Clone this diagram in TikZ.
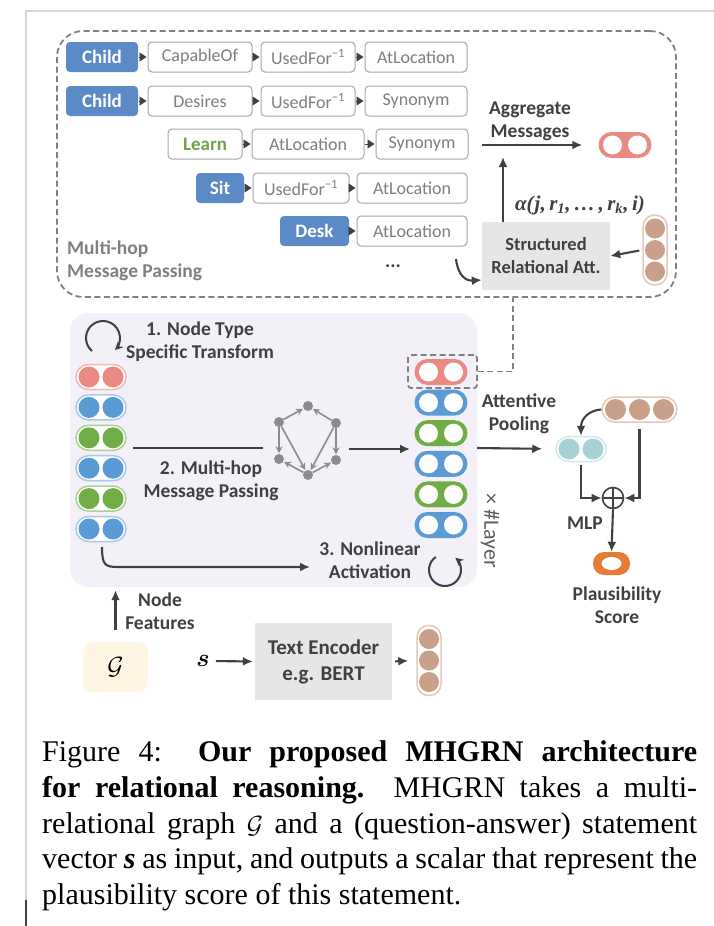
\documentclass[tikz,border=0pt]{standalone}
\usepackage{fontspec}
\setmainfont{Carlito}
\newfontfamily\capfont{Liberation Serif}
\usepackage{amsmath,bm}
\usetikzlibrary{arrows.meta,calc}
\definecolor{framegrey}{HTML}{D6D6D6}
\definecolor{cursorgrey}{HTML}{404040}
\definecolor{entblue}{HTML}{5B8AC6}
\definecolor{boxgrey}{HTML}{A6A6A6}
\definecolor{relgrey}{HTML}{7F7F7F}
\definecolor{learngreen}{HTML}{6FA64A}
\definecolor{darkgrey}{HTML}{404040}
\definecolor{dashgrey}{HTML}{808080}
\definecolor{graphgrey}{HTML}{8C8C8C}
\definecolor{pred}{HTML}{EA8A84}
\definecolor{predlt}{HTML}{F2B8B3}
\definecolor{pblue}{HTML}{5B9BD5}
\definecolor{pbluelt}{HTML}{A9C8EA}
\definecolor{pgreen}{HTML}{70AD47}
\definecolor{pgreenlt}{HTML}{AFD095}
\definecolor{pteal}{HTML}{A8D2D5}
\definecolor{pteallt}{HTML}{D2E8EA}
\definecolor{pbrown}{HTML}{C9A089}
\definecolor{pbrownlt}{HTML}{E3C9BB}
\definecolor{porange}{HTML}{E57C36}
\definecolor{encgrey}{HTML}{E6E6E6}
\definecolor{panelcol}{HTML}{F3F0F7}
\definecolor{gyellow}{HTML}{FEF6E3}
\tikzset{
  relbox/.style={draw=boxgrey, line width=1pt, rounded corners=4pt, fill=white, text=relgrey,
    minimum height=30pt, inner sep=0pt, font=\fontsize{18}{20}\selectfont},
  entbox/.style={relbox, draw=none, fill=entblue, text=white, font=\fontsize{19}{20}\selectfont\bfseries},
  tri/.style={draw=darkgrey, line width=0.6pt, shorten >=1pt, -{Triangle[length=7pt,width=9pt]}},
  arr/.style={draw=darkgrey, line width=2.1pt, -{Latex[length=10pt,width=9pt]}},
  lbl/.style={text=darkgrey, font=\fontsize{19.5}{23}\selectfont\bfseries, align=center, inner sep=0pt},
  dashline/.style={draw=dashgrey, line width=1.8pt, dash pattern=on 6pt off 3.5pt},
  greybox/.style={fill=encgrey, inner sep=0pt},
  gnode/.style={circle, fill=graphgrey, inner sep=0pt, minimum size=10pt},
  garr/.style={draw=graphgrey, line width=1.6pt, shorten >=0.5pt, -{Stealth[length=7pt,width=7pt]}},
  loop/.style={draw=darkgrey, line width=2pt, -{Stealth[length=8pt,width=8pt]}},
  pics/lpill/.style={code={
    \node[draw=#1lt, line width=1.5pt, fill=white, rounded corners=12.5pt,
      minimum width=50pt, minimum height=25pt, inner sep=0pt] (-box) {};
    \fill[#1] (-12,0) circle (10.5pt) (12,0) circle (10.5pt);
  }},
  pics/rpill/.style={code={
    \node[fill=#1, rounded corners=13pt, minimum width=53pt, minimum height=26pt, inner sep=0pt] (-box) {};
    \fill[white] (-12.5,0) circle (9.5pt) (12.5,0) circle (9.5pt);
  }},
  pics/bcol/.style={code={
    \node[draw=pbrownlt, line width=1.5pt, fill=white, rounded corners=11.5pt,
      minimum width=24pt, minimum height=70pt, inner sep=0pt] (-box) {};
    \foreach \k in {-21.5,0,21.5} \fill[pbrown] (0,\k) circle (10pt);
  }},
  pics/brow/.style={code={
    \node[draw=pbrownlt, line width=1.5pt, fill=white, rounded corners=12.5pt,
      minimum width=75pt, minimum height=25pt, inner sep=0pt] (-box) {};
    \foreach \k in {-24,0,24} \fill[pbrown] (\k,0) circle (10.5pt);
  }}
}

\begin{document}
\begin{tikzpicture}[x=1pt,y=-1pt]
    \useasboundingbox (0,0) rectangle (714,926);
    \draw[framegrey, line width=1.2pt] (714,11) -- (26,11) -- (26,926);
    \draw[cursorgrey, line width=2.2pt] (26,900) -- (26,926);

    % multi-hop message passing (top)
    \node[dashline, rounded corners=26pt, minimum width=619pt, minimum height=266pt] (mhmp) at (366.5,164) {};
    \node[entbox, minimum width=72pt] (c1) at (102,57) {Child};
    \node[relbox, minimum width=104pt] (r1a) at (200,57) {CapableOf};
    \node[relbox, minimum width=94pt] (r1b) at (308,57) {UsedFor\textsuperscript{−1}};
    \node[relbox, minimum width=102pt] (r1c) at (416,57) {AtLocation};
    \node[entbox, minimum width=72pt] (c2) at (102,101) {Child};
    \node[relbox, minimum width=104pt] (r2a) at (200,101) {Desires};
    \node[relbox, minimum width=94pt] (r2b) at (308,101) {UsedFor\textsuperscript{−1}};
    \node[relbox, minimum width=102pt] (r2c) at (416,101) {Synonym};
    \node[relbox, minimum width=74pt, text=learngreen, font=\fontsize{19}{20}\selectfont\bfseries] (c3) at (205,144) {Learn};
    \node[relbox, minimum width=112pt] (r3a) at (308,144) {AtLocation};
    \node[relbox, minimum width=92pt] (r3b) at (422,144) {Synonym};
    \node[entbox, minimum width=48pt] (c4) at (220,188) {Sit};
    \node[relbox, minimum width=96pt] (r4a) at (301,188) {UsedFor\textsuperscript{−1}};
    \node[relbox, minimum width=110pt] (r4b) at (412,188) {AtLocation};
    \node[entbox, minimum width=69pt] (c5) at (314.5,231) {Desk};
    \node[relbox, minimum width=110pt] (r5a) at (412,231) {AtLocation};
    \foreach \source/\target in {c1/r1a, r1a/r1b, r1b/r1c, c2/r2a, r2a/r2b, r2b/r2c,
        c3/r3a, r3a/r3b, c4/r4a, r4a/r4b, c5/r5a} {
            \draw[tri] (\source) -- (\target);
        }
    \node[lbl] (dots) at (393,266) {...};
    \node[lbl, text=relgrey, anchor=west, align=left] (mhlbl) at (67,261) {Multi-hop\\Message Passing};

    \node[lbl] (agglbl) at (530,121) {Aggregate\\Messages};
    \pic (agg) at (625,145) {rpill=pred};
    \coordinate (aggin) at (482,145);
    \draw[arr, shorten >=16pt] (aggin) -- (agg-box.west);
    \node[greybox, minimum width=128pt, minimum height=68pt] (sra) at (546,256) {};
    \node[lbl, font=\fontsize{18.5}{23}\selectfont\bfseries] at (sra) {Structured\\Relational Att.};
    \coordinate (aggtip) at (503,157);
    \draw[arr] (sra.north -| aggtip) -- (aggtip);
    \node[text=darkgrey, font=\capfont\fontsize{21}{23}\selectfont\bfseries\itshape, inner sep=0pt] (alpha) at (580,205)
        {α(\kern1pt j,\,r\textsubscript{1},\,…\,,\,r\textsubscript{k},\,i)};
    \pic (qa1) at (655,250) {bcol};
    \draw[arr, shorten <=3pt] (qa1-box.west) -- (sra.east);
    \coordinate (dotsarr) at (456,259);
    \draw[arr] (dotsarr) .. controls (458,276) and (466,281) .. ($(sra.west)+(0,24)$);

    % GNN panel
    \node[fill=panelcol, rounded corners=18pt, minimum width=407pt, minimum height=274pt] (gnn) at (273.5,450) {};
    \draw[loop] (103,338) ++(130:17) arc[start angle=130, end angle=405, radius=17];
    \node[lbl] (step1) at (200,341.5) {1. Node Type\\Specific Transform};
    \foreach \i/\c in {1/pred, 2/pblue, 3/pgreen, 4/pblue, 5/pgreen, 6/pblue} {
            \pic (L\i) at (101,{377+30.4*(\i-1)}) {lpill=\c};
            \pic (R\i) at (441,{372+30.6*(\i-1)}) {rpill=\c};
        }
    \node[dashline, rounded corners=3pt, minimum width=69pt, minimum height=33pt] (selbox) at (442.5,371.5) {};
    \draw[dashline] (selbox.east) -| ($(mhmp.south)+(146.5,0)$);

    % graph icon
    \node[gnode] (gtop) at (308,406) {};
    \node[gnode] (glt) at (279,422) {};
    \node[gnode] (grt) at (336,423) {};
    \node[gnode] (glb) at (279,459) {};
    \node[gnode] (grb) at (336,460) {};
    \node[gnode] (gbot) at (308,475) {};
    \foreach \source/\target in {glt/gtop, grt/gtop, glt/glb, grt/grb, glt/gbot, grt/gbot, gbot/glb, gbot/grb} {
            \draw[garr] (\source) -- (\target);
        }
    \coordinate (mpin) at (133,448);
    \coordinate (mpgraph) at (263,448);
    \coordinate (mpout) at (349,449);
    \coordinate (mpnext) at (410,449);
    \draw[darkgrey, line width=2.1pt] (mpin) -- (mpgraph);
    \draw[arr] (mpout) -- (mpnext);
    \node[lbl] (step2) at (211,480.5) {2. Multi-hop\\Message Passing};

    \coordinate (actstart) at (102,547);
    \coordinate (actend) at (310,567);
    \draw[arr] (actstart) .. controls (102,565) and (105,567) .. (118,567) -- (actend);
    \node[lbl] (step3) at (370,560.5) {3. Nonlinear\\Activation};
    \draw[loop] (445,570) ++(235:16) arc[start angle=235, end angle=-50, radius=16];
    \node[text=darkgrey!85, font=\fontsize{22}{22}\selectfont, rotate=-90, inner sep=0pt] (layers) at (490,531) {× \#Layer};

    % pooling and scoring
    \node[lbl] (pool) at (519,413.5) {Attentive\\Pooling};
    \pic (T) at (581,449) {lpill=pteal};
    \coordinate (poolin) at (477,448);
    \draw[arr, shorten >=13pt] (poolin) -- (T-box.west);
    \pic (qa2) at (639.5,409.5) {brow};
    \draw[arr] (qa2-box.west) .. controls (590,410) and (581,418) .. (T-box.north);
    \node[circle, draw=darkgrey, line width=1.6pt, minimum size=21pt, inner sep=0pt,
        path picture={\draw[darkgrey, line width=1.6pt] (path picture bounding box.north) -- (path picture bounding box.south)
        (path picture bounding box.west) -- (path picture bounding box.east);}] (oplus) at (613,498) {};
    \draw[arr, shorten <=3pt] (T-box.south) |- (oplus.west);
    \draw[arr, shorten <=6pt] (qa2-box.south) |- (oplus.east);
    \node[fill=porange, rounded corners=11pt, minimum width=37pt, minimum height=23pt, inner sep=0pt] (score) at (611.5,563.5) {};
    \fill[white] (score.center) ellipse (10pt and 6.5pt);
    \draw[arr] (oplus.south) -- (score.north);
    \node[lbl] (mlp) at (585,523) {MLP};
    \node[lbl] (plaus) at (617,605) {Plausibility\\Score};

    % inputs
    \node[fill=gyellow, rounded corners=10pt, minimum width=65pt, minimum height=50pt, inner sep=0pt] (gbox) at (115.5,667) {};
    \node[font=\fontsize{26}{26}\selectfont, inner sep=0pt] at (gbox) {$\mathcal{G}$};
    \draw[arr, shorten <=12pt, shorten >=3pt] (gbox.north) -- (gbox.north |- gnn.south);
    \node[lbl] (feat) at (160,611.5) {Node\\Features};
    \node[font=\fontsize{24}{24}\selectfont, inner sep=0pt] (stxt) at (203,661) {$\bm{s}$};
    \node[greybox, minimum width=137pt, minimum height=77pt] (enc) at (323.5,661.5) {};
    \node[lbl, font=\fontsize{21}{26}\selectfont\bfseries] at (enc) {Text Encoder\\e.g. BERT};
    \draw[arr, shorten <=6pt, shorten >=2pt] (stxt.east) -- (enc.west);
    \pic (qa3) at (429,660.5) {bcol};
    \draw[arr, shorten <=3pt, shorten >=8pt] (enc.east) -- (qa3-box.west);

    % caption
    \node[anchor=north west, text width=655pt, align=justify, inner sep=0pt,
        font=\capfont\fontsize{30}{35.8}\selectfont] (caption) at (42,740.5) {\spaceskip=.25em plus .4em minus .12em\relax
        Figure 4:\ \ \textbf{Our proposed MHGRN architecture}\linebreak
        \textbf{for relational reasoning.}\ \ MHGRN takes a multi-\linebreak
        relational graph $\mathcal{G}$ and a (question-answer) statement\linebreak
        vector {\bfseries\itshape s} as input, and outputs a scalar that represent the\linebreak
        plausibility score of this statement.};
\end{tikzpicture}
\end{document}
